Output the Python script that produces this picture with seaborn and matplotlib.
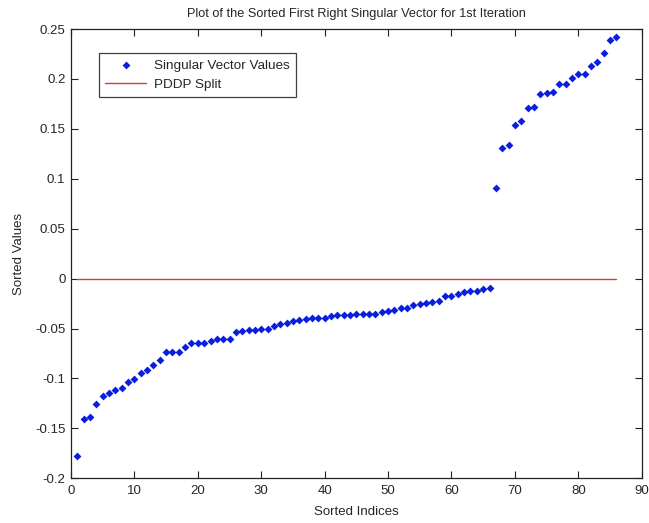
import matplotlib
matplotlib.use("Agg")
import matplotlib.pyplot as plt
import pandas as pd
import seaborn as sns

# Sorted entries of the first right singular vector (index 1..86)
sorted_values = [
    -0.178, -0.1406, -0.139, -0.126, -0.118, -0.115, -0.112, -0.110, -0.104, -0.1006,
    -0.095, -0.092, -0.087, -0.0815, -0.074, -0.074, -0.074, -0.068, -0.064, -0.064,
    -0.064, -0.0625, -0.060, -0.060, -0.060, -0.0535, -0.0525, -0.051, -0.051, -0.050,
    -0.050, -0.047, -0.0455, -0.044, -0.0425, -0.0415, -0.040, -0.039, -0.039, -0.039,
    -0.0375, -0.036, -0.036, -0.036, -0.035, -0.035, -0.035, -0.035, -0.033, -0.032,
    -0.031, -0.029, -0.029, -0.0265, -0.0255, -0.024, -0.023, -0.022, -0.017, -0.017,
    -0.0155, -0.0135, -0.012, -0.012, -0.0107, -0.0094,
    0.091, 0.131, 0.134, 0.154, 0.158, 0.171, 0.172, 0.185, 0.186, 0.187,
    0.195, 0.195, 0.2006, 0.205, 0.205, 0.2126, 0.2166, 0.226, 0.239, 0.242,
]
sorted_indices = list(range(1, len(sorted_values) + 1))
split_value = 0.0

x_ticks = [0, 10, 20, 30, 40, 50, 60, 70, 80, 90]
y_ticks = [0.25, 0.2, 0.15, 0.1, 0.05, 0, -0.05, -0.1, -0.15, -0.2]
y_tick_labels = ["0.25", "0.2", "0.15", "0.1", "0.05", "0", "-0.05", "-0.1", "-0.15", "-0.2"]

title_text = "Plot of the Sorted First Right Singular Vector for 1st Iteration"
x_label = "Sorted Indices"
y_label = "Sorted Values"
series_label = "Singular Vector Values"
split_label = "PDDP Split"

sns.set_style("ticks")
plt.rcParams["font.family"] = ["Liberation Sans", "DejaVu Sans"]
plt.rcParams["xtick.direction"] = "in"
plt.rcParams["ytick.direction"] = "in"

df = pd.DataFrame({"idx": sorted_indices, "val": sorted_values})
split_df = pd.DataFrame({"idx": [sorted_indices[0], sorted_indices[-1]],
                         "val": [split_value, split_value]})

fig = plt.figure(figsize=(6.49, 5.23), dpi=100)
ax = fig.add_axes([71 / 649, 1 - 478.3 / 523, (641.7 - 71) / 649, (478.3 - 29) / 523])

sns.scatterplot(data=df, x="idx", y="val", ax=ax, marker="D", s=16,
                color="#0a1ee0", linewidth=0, label=series_label, zorder=3)
sns.lineplot(data=split_df, x="idx", y="val", ax=ax, color="#e0392e",
             linewidth=1.0, label=split_label, zorder=2)

ax.set_xlim(0, 90)
ax.set_ylim(-0.2, 0.25)
ax.set_xticks(x_ticks)
ax.set_xticklabels([str(t) for t in x_ticks])
ax.set_yticks(y_ticks)
ax.set_yticklabels(y_tick_labels)
ax.tick_params(axis="both", which="both", direction="in", length=5, width=0.8,
               top=True, right=True, labelsize=9.5, color="#222222")
ax.tick_params(axis="x", pad=5)
ax.tick_params(axis="y", pad=4)
for side in ax.spines.values():
    side.set_linewidth(0.9)
    side.set_color("#222222")

ax.set_xlabel(x_label, fontsize=9.5, labelpad=6)
ax.set_ylabel(y_label, fontsize=9.5, labelpad=7)
ax.set_title(title_text, fontsize=9.2, pad=9)

leg = ax.legend(loc="upper left", bbox_to_anchor=(0.0496, 0.946), frameon=True,
                fancybox=False, edgecolor="#111111", fontsize=9.7,
                handlelength=3.0, borderpad=0.45, labelspacing=0.5,
                handletextpad=0.6, borderaxespad=0)
leg.get_frame().set_linewidth(0.9)

fig.savefig("out.png", dpi=100, facecolor="white")
